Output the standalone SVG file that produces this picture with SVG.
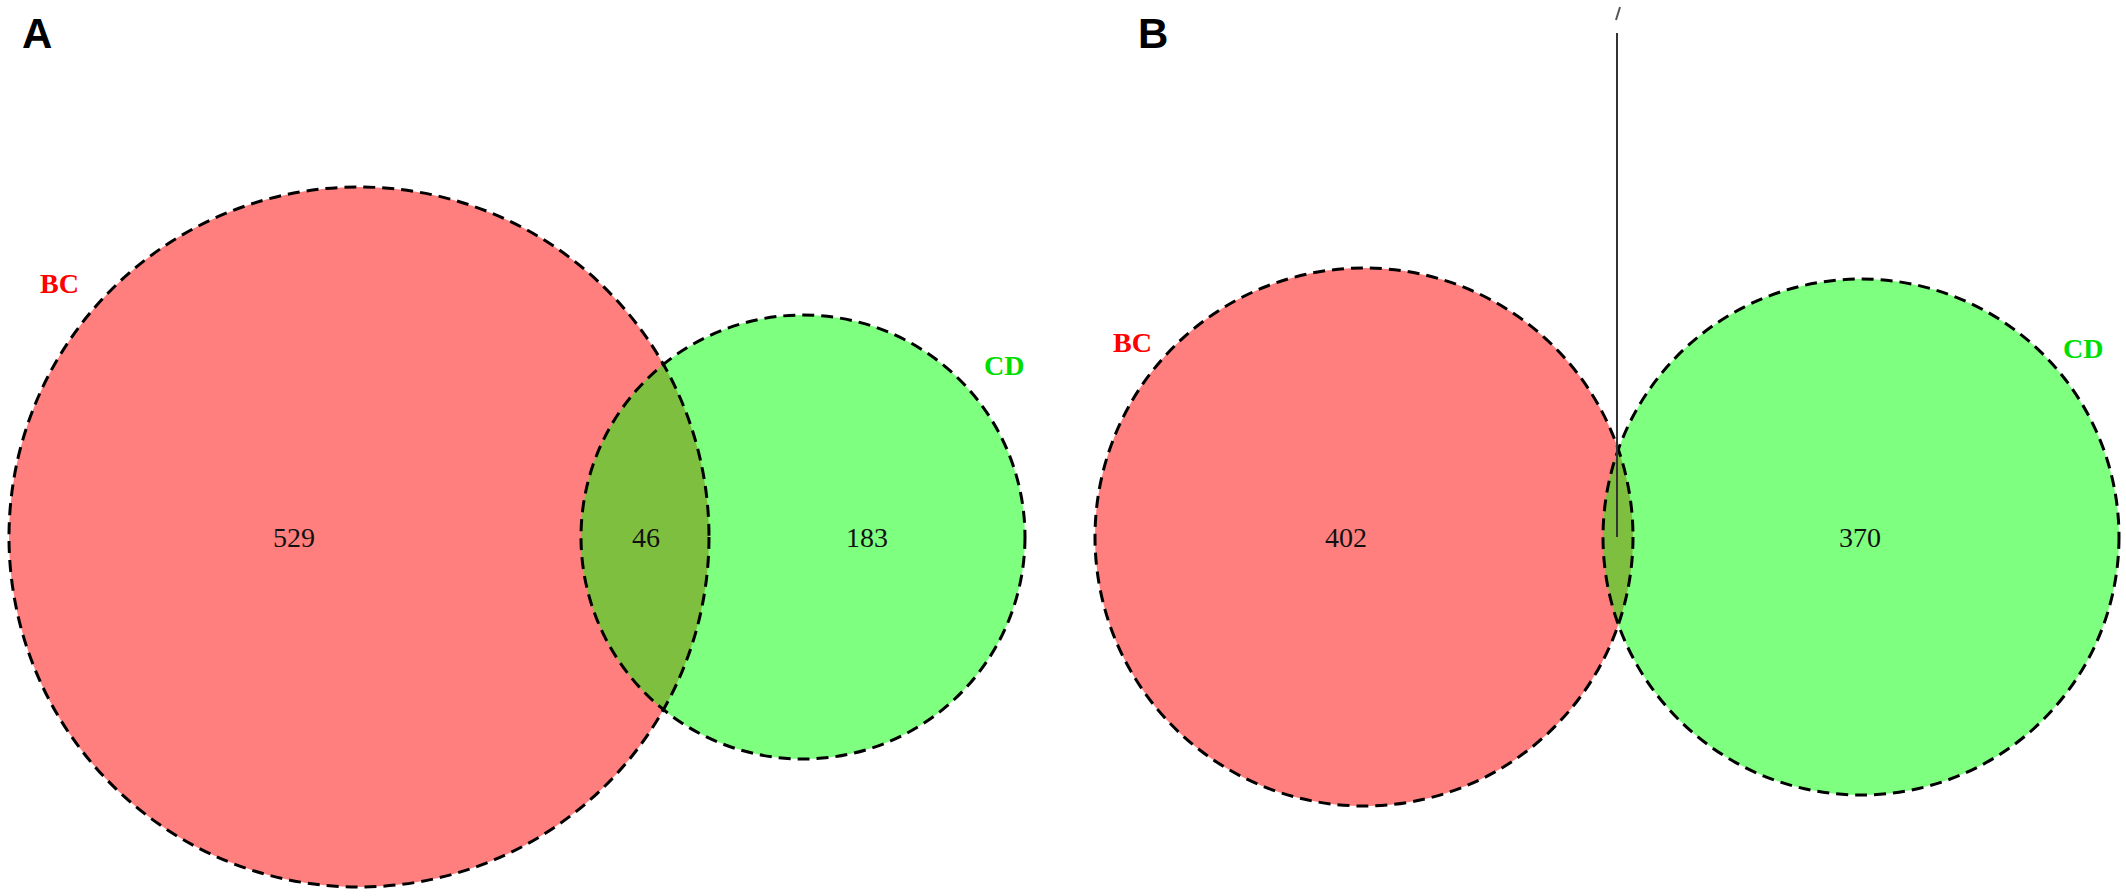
<svg xmlns="http://www.w3.org/2000/svg" width="2126" height="896" viewBox="0 0 2126 896">
<style>
.bc{fill:#FF0000;fill-opacity:0.5;stroke:none}
.cd{fill:#00FF00;fill-opacity:0.5;stroke:none}
.edge{fill:none;stroke:#000;stroke-width:3;stroke-dasharray:12 7}
.panel{font-family:"Liberation Sans",Arial,sans-serif;font-weight:bold;font-size:42px;fill:#000}
.lab{font-family:"Liberation Serif","Times New Roman",serif;font-weight:bold;font-size:28px}
.num{font-family:"Liberation Serif","Times New Roman",serif;font-size:28px;fill:#111;text-anchor:middle}
</style>
<rect width="2126" height="896" fill="#fff"/>
<text class="panel" x="22" y="48">A</text>
<text class="panel" x="1138" y="48">B</text>
<g id="A-BC">
<circle class="bc" cx="359" cy="537" r="350"/>
</g>
<g id="A-CD">
<circle class="cd" cx="803" cy="537" r="222"/>
</g>
<g id="A-edges">
<circle class="edge" cx="359" cy="537" r="350"/>
<circle class="edge" cx="803" cy="537" r="222"/>
</g>
<text class="lab" x="40" y="293" fill="#FF0000">BC</text>
<text class="lab" x="984" y="375" fill="#00DD00">CD</text>
<text class="num" x="294" y="547">529</text>
<text class="num" x="646" y="547">46</text>
<text class="num" x="867" y="547">183</text>
<g id="B-BC">
<circle class="bc" cx="1364" cy="537" r="269"/>
</g>
<g id="B-CD">
<circle class="cd" cx="1861" cy="537" r="258"/>
</g>
<g id="B-edges">
<circle class="edge" cx="1364" cy="537" r="269"/>
<circle class="edge" cx="1861" cy="537" r="258"/>
</g>
<g id="connectors">
<line x1="1617" y1="33" x2="1617" y2="537" stroke="#333" stroke-width="2"/>
<line x1="1620" y1="7" x2="1616" y2="20" stroke="#555" stroke-width="2"/>
</g>
<text class="lab" x="1113" y="352" fill="#FF0000">BC</text>
<text class="lab" x="2063" y="358" fill="#00DD00">CD</text>
<text class="num" x="1346" y="547">402</text>
<text class="num" x="1860" y="547">370</text>
</svg>
